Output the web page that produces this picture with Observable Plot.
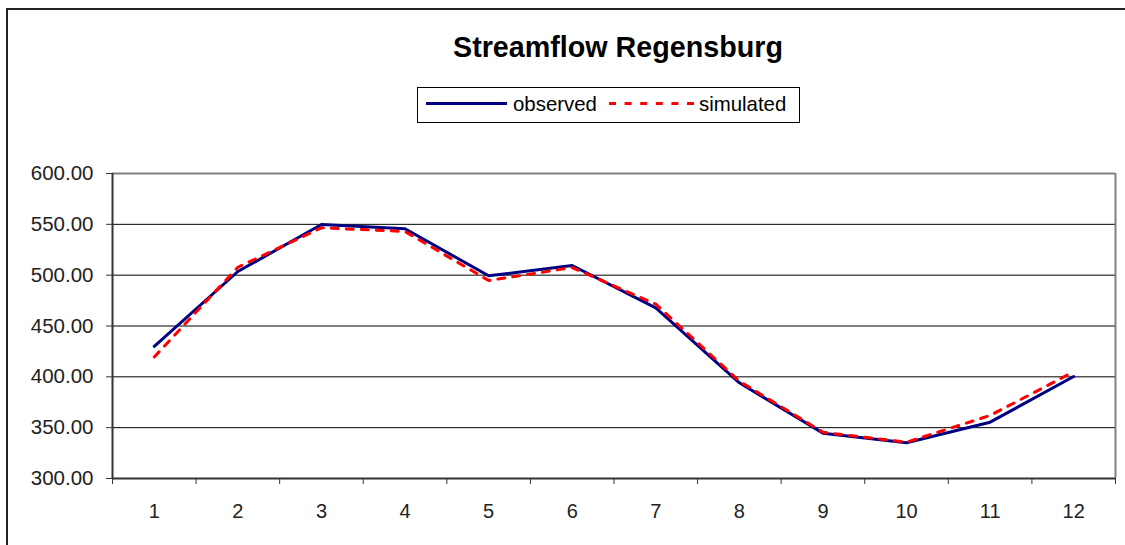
<!DOCTYPE html>
<html>
<head>
<meta charset="utf-8">
<script src="https://cdn.jsdelivr.net/npm/d3@7"></script>
<script src="https://cdn.jsdelivr.net/npm/@observablehq/plot@0.6"></script>
<style>
  html, body { margin: 0; padding: 0; background: #fff; overflow: hidden; }
  #wrap { position: relative; width: 1125px; height: 545px; font-family: "Liberation Sans", Arial, sans-serif; }
  #border { position: absolute; left: 6px; top: 8px; width: 1130px; height: 560px; border: 2px solid #222; box-sizing: border-box; }
  #title { position: absolute; left: 618px; top: 33px; transform: translateX(-50%); font-size: 28.7px; line-height: 28.7px; font-weight: bold; color: #000; white-space: nowrap; }
  #legend { position: absolute; left: 417px; top: 87px; }
  #chart { position: absolute; left: 0; top: 0; }
</style>
</head>
<body>
<div id="wrap">
  <div id="border"></div>
  <div id="chart"></div>
  <div id="title">Streamflow Regensburg</div>
  <svg id="legend" width="384" height="37" xmlns="http://www.w3.org/2000/svg" font-family="Liberation Sans, Arial, sans-serif">
    <rect x="0.5" y="0.5" width="382" height="35" fill="#fff" stroke="#000" stroke-width="1"></rect>
    <line x1="9" x2="90" y1="16.5" y2="16.5" stroke="#000080" stroke-width="3"></line>
    <text x="96" y="24" font-size="20.4" fill="#000">observed</text>
    <line x1="192" x2="277" y1="16.5" y2="16.5" stroke="#ff0000" stroke-width="3" stroke-dasharray="7,8.6"></line>
    <text x="282" y="24" font-size="20.4" fill="#000">simulated</text>
  </svg>
</div>
<script>
const months = [1, 2, 3, 4, 5, 6, 7, 8, 9, 10, 11, 12];
const observed = [430, 503.6, 549.8, 545.6, 499.4, 509.5, 467.9, 394.1, 344.6, 335.1, 355.4, 400.3];
const simulated = [419.5, 507.8, 546.6, 543, 494.8, 507.5, 471.5, 395.7, 345.5, 335.7, 362, 405];
const yTicks = [300, 350, 400, 450, 500, 550, 600];
const seriesNames = ["observed", "simulated"];

const obsData = months.map((m, i) => ({month: m, value: observed[i], series: seriesNames[0]}));
const simData = months.map((m, i) => ({month: m, value: simulated[i], series: seriesNames[1]}));
const boundaries = [0.5, ...months.map(m => m + 0.5)];

const chart = Plot.plot({
  width: 1125,
  height: 545,
  marginLeft: 112,
  marginRight: 10,
  marginTop: 173,
  marginBottom: 67,
  style: {fontFamily: "Liberation Sans, Arial, sans-serif", fontSize: "20px", color: "#222", background: "transparent"},
  x: {type: "linear", domain: [0.5, 12.5]},
  y: {type: "linear", domain: [300, 600]},
  marks: [
    Plot.ruleY(yTicks.filter(d => d !== 300 && d !== 600), {stroke: "#000", strokeWidth: 1}),
    Plot.ruleY([600], {stroke: "#808080", strokeWidth: 2}),
    Plot.ruleX([12.5], {stroke: "#808080", strokeWidth: 2}),
    Plot.ruleX([0.5], {stroke: "#333", strokeWidth: 2}),
    Plot.ruleY([300], {stroke: "#333", strokeWidth: 2}),
    Plot.axisY({ticks: yTicks, tickFormat: d3.format(".2f"), tickSize: 6, tickPadding: 13, fontSize: 20.5, label: null, stroke: "#333"}),
    Plot.axisX({ticks: boundaries, tickFormat: () => "", tickSize: 6, label: null, stroke: "#333"}),
    Plot.axisX({ticks: months, tickFormat: d => String(d), tickSize: 0, tickPadding: 25, fontSize: 20, label: null}),
    Plot.line(obsData, {x: "month", y: "value", stroke: "#000080", strokeWidth: 3}),
    Plot.line(simData, {x: "month", y: "value", stroke: "#ff0000", strokeWidth: 3, strokeDasharray: "7,8"})
  ]
});
document.getElementById("chart").appendChild(chart);
</script>
</body>
</html>
